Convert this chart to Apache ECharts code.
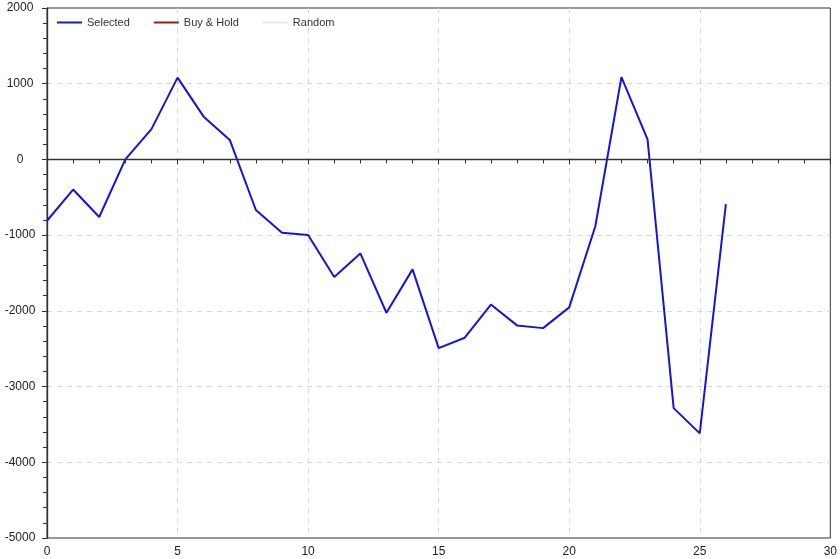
<!DOCTYPE html>
<html><head><meta charset="utf-8">
<script src="https://cdn.jsdelivr.net/npm/echarts@6/dist/echarts.min.js"></script>
<style>html,body{margin:0;padding:0;background:#fff}#c{width:840px;height:559px}</style>
</head><body><div id="c"></div>
<script>
const xValues = [0,1,2,3,4,5,6,7,8,9,10,11,12,13,14,15,16,17,18,19,20,21,22,23,24,25,26];
const selected = [-810,-398,-760,0,400,1080,565,258,-668,-968,-998,-1552,-1242,-2025,-1452,-2492,-2355,-1917,-2192,-2228,-1954,-882,1088,265,-3285,-3618,-590];
const buyHold = [];
const randomS = [];
const seriesNames = ['Selected','Buy & Hold','Random'];

const font = 'Liberation Sans, Arial, sans-serif';
const chart = echarts.init(document.getElementById('c'));
const axisLine = {show:true, lineStyle:{color:'#333', width:1.2}};
const split = {show:true, showMinLine:false, showMaxLine:false, lineStyle:{type:[5,5], color:'#d8d8d8'}};
chart.setOption({
  animation:false,
  backgroundColor:'#fff',
  legend:{
    left:52, top:12, itemWidth:25, itemHeight:2, itemGap:24,
    icon:'rect',
    textStyle:{fontFamily:font, fontSize:11, color:'#333'},
    data:seriesNames
  },
  grid:{left:47, right:8, top:8, bottom:21, show:true, borderColor:'#333', borderWidth:1},
  xAxis:[{
    type:'value', min:0, max:30, interval:5, position:'bottom',
    axisLine:axisLine,
    axisTick:{show:true, inside:false, length:5, lineStyle:{color:'#333'}},
    minorTick:{show:true, splitNumber:5, length:4, lineStyle:{color:'#333'}},
    axisLabel:{fontFamily:font, fontSize:12, color:'#222', margin:8, formatter:v=>String(v)},
    splitLine:split
  },{
    type:'value', min:0, max:30, interval:5, position:'top',
    axisLine:axisLine,
    axisTick:{show:true, inside:true, length:4, lineStyle:{color:'#333'}},
    minorTick:{show:true, splitNumber:5, length:3, lineStyle:{color:'#333'}},
    axisLabel:{show:false}, splitLine:{show:false}
  }],
  yAxis:[{
    type:'value', min:-5000, max:2000, interval:1000, position:'left',
    axisLine:axisLine,
    axisTick:{show:true, inside:false, length:5, lineStyle:{color:'#333'}},
    minorTick:{show:true, splitNumber:5, length:4, lineStyle:{color:'#333'}},
    axisLabel:{fontFamily:font, fontSize:12, color:'#222', margin:27, align:'center', formatter:v=>String(v)},
    splitLine:split
  },{
    type:'value', min:-5000, max:2000, interval:1000, position:'right',
    axisLine:axisLine,
    axisTick:{show:true, inside:true, length:4, lineStyle:{color:'#333'}},
    minorTick:{show:true, splitNumber:5, length:3, lineStyle:{color:'#333'}},
    axisLabel:{show:false}, splitLine:{show:false}
  }],
  series:[
    {name:seriesNames[0], type:'line', data:xValues.map((x,i)=>[x,selected[i]]),
     symbol:'none', lineStyle:{color:'#1515d8', width:2}, itemStyle:{color:'#1515d8'},
     markLine:{silent:true, symbol:'none', label:{show:false},
       lineStyle:{color:'#333', width:1.3, type:'solid'}, data:[{yAxis:0}]}},
    {name:seriesNames[1], type:'line', data:buyHold, symbol:'none', lineStyle:{color:'#9b1b1b', width:2}, itemStyle:{color:'#9b1b1b'}},
    {name:seriesNames[2], type:'line', data:randomS, symbol:'none', lineStyle:{color:'#e8e8e8', width:2}, itemStyle:{color:'#e8e8e8'}}
  ]
});
</script></body></html>
